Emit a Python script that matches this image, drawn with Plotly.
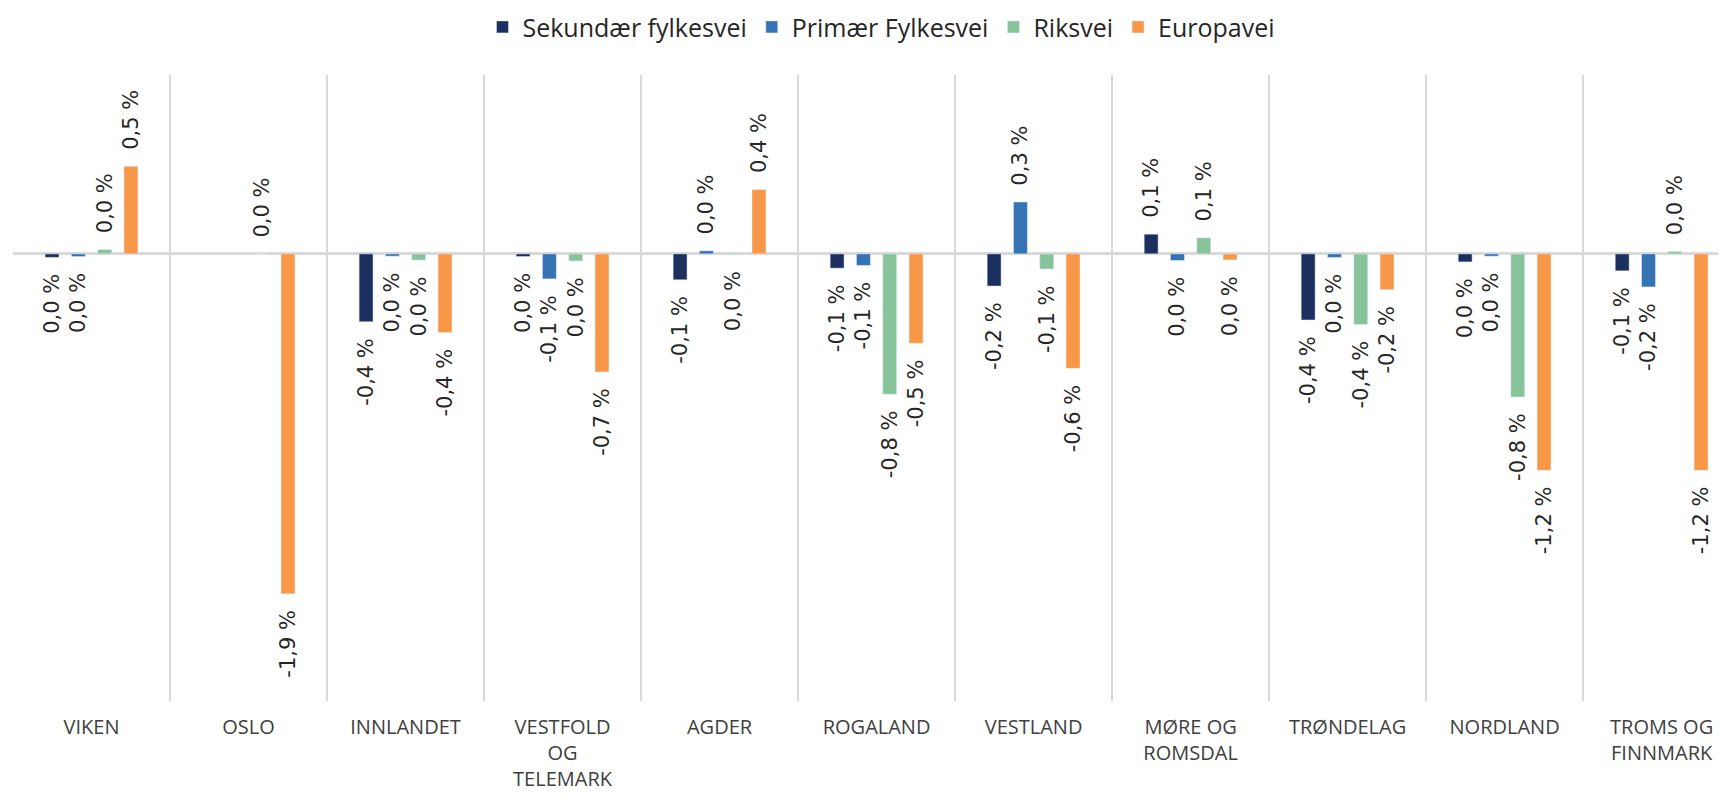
import plotly.graph_objects as go

categories = ["VIKEN", "OSLO", "INNLANDET", "VESTFOLD<br>OG<br>TELEMARK", "AGDER", "ROGALAND",
              "VESTLAND", "MØRE OG<br>ROMSDAL", "TRØNDELAG", "NORDLAND", "TROMS OG<br>FINNMARK"]

sekundaer = [-0.02, None, -0.38, -0.015, -0.145, -0.08, -0.18, 0.11, -0.37, -0.045, -0.095]
primaer = [-0.015, None, -0.013, -0.14, 0.017, -0.065, 0.29, -0.037, -0.02, -0.013, -0.185]
riksvei = [0.024, 0.0, -0.035, -0.04, -0.005, -0.785, -0.085, 0.09, -0.395, -0.80, 0.013]
europavei = [0.49, -1.9, -0.44, -0.66, 0.36, -0.50, -0.64, -0.034, -0.20, -1.21, -1.21]

series_names = ["Sekundær fylkesvei", "Primær Fylkesvei", "Riksvei", "Europavei"]
series_values = [sekundaer, primaer, riksvei, europavei]
colors = ["#1c305f", "#3573b3", "#88c49b", "#f79747"]

PAD = "\u00a0\u00a0"


def fmt(v):
    if v is None:
        return None
    s = f"{v:.1f}"
    if s == "-0.0":
        s = "0.0"
    s = s.replace(".", ",") + " %"
    return PAD + s if v >= 0 else s + PAD


fig = go.Figure()
for name, vals, col in zip(series_names, series_values, colors):
    fig.add_trace(go.Bar(
        x=categories, y=vals, name=name, marker_color=col,
        text=[fmt(v) for v in vals], textposition="outside", textangle=-90,
        constraintext="none", cliponaxis=False,
        textfont=dict(family="DejaVu Sans", size=21, color="#262626"),
    ))

fig.update_layout(
    width=1718, height=797,
    margin=dict(l=5, r=0, t=67, b=104, autoexpand=False),
    plot_bgcolor="white", paper_bgcolor="white",
    barmode="group", bargap=0.33, bargroupgap=0.47,
    showlegend=True,
    legend=dict(orientation="h", x=0.507, xanchor="center", y=0.976, yref="container", yanchor="middle",
                font=dict(family="Open Sans", size=25, color="#262626"),
                traceorder="normal"),
    xaxis=dict(range=[-0.5, 10.41], tickson="boundaries", showgrid=True, gridcolor="#d9d9d9",
               gridwidth=1.5, ticks="", showline=False, automargin=False, ticklabelstandoff=12,
               tickfont=dict(family="Open Sans", size=20, color="#404040")),
    yaxis=dict(range=[-2.5, 1.0], showgrid=False, showticklabels=False, zeroline=True,
               automargin=False,
               zerolinecolor="#d9d9d9", zerolinewidth=2.5, ticks=""),
)

fig.write_html("out.html")
